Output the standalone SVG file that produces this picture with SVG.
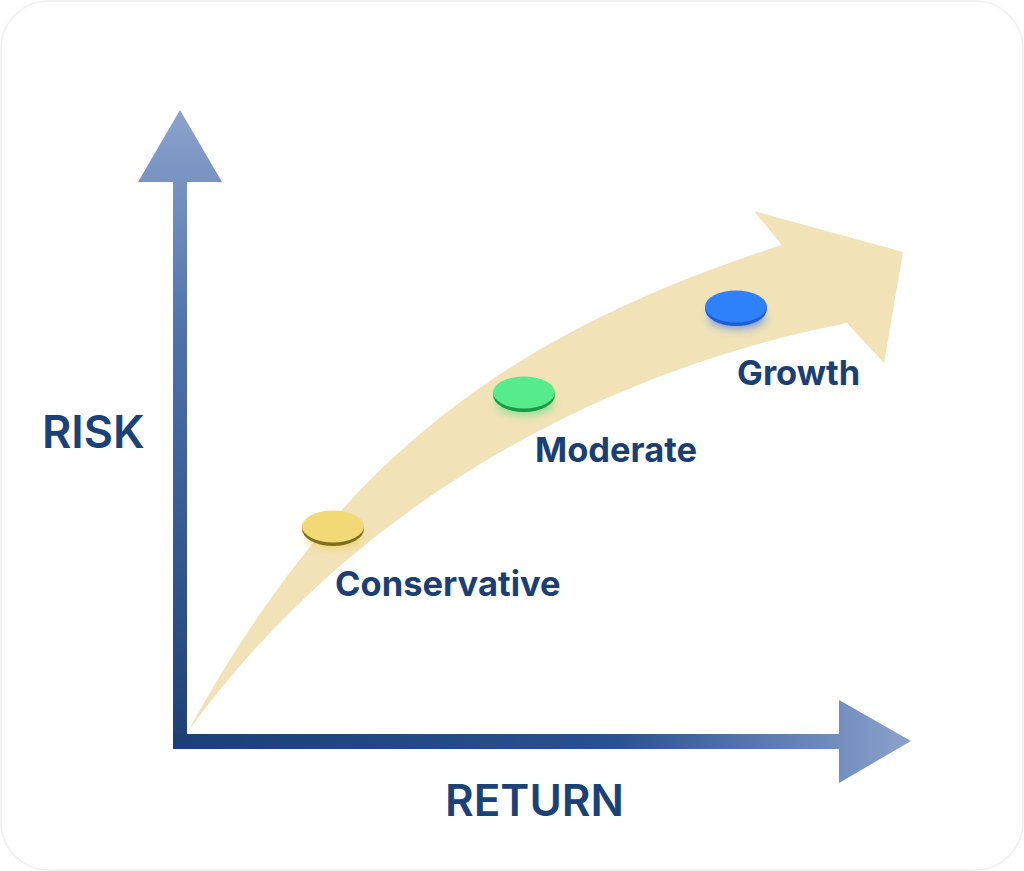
<svg xmlns="http://www.w3.org/2000/svg" width="1024" height="871" viewBox="0 0 1024 871">
  <defs>
    <linearGradient id="gV" x1="0" y1="110" x2="0" y2="749" gradientUnits="userSpaceOnUse">
      <stop offset="0" stop-color="#8ba2cc"/>
      <stop offset="0.35" stop-color="#4f72ab"/>
      <stop offset="1" stop-color="#1c3f74"/>
    </linearGradient>
    <linearGradient id="gH" x1="173" y1="0" x2="911" y2="0" gradientUnits="userSpaceOnUse">
      <stop offset="0" stop-color="#1c3f74"/>
      <stop offset="0.6" stop-color="#2a5190"/>
      <stop offset="1" stop-color="#8ba2cc"/>
    </linearGradient>
    <filter id="glow" x="-50%" y="-50%" width="200%" height="200%">
      <feGaussianBlur stdDeviation="5"/>
    </filter>
    <style>
      .lbl { font-family: Inter, "Liberation Sans", sans-serif; font-weight: 700; fill: #1b3f72; }
      .axis { font-family: Inter, "Liberation Sans", sans-serif; font-weight: 600; fill: #1b4277; }
    </style>
  </defs>

  <rect x="1" y="1" width="1022" height="869" rx="48" ry="48" fill="#ffffff" stroke="#efefef" stroke-width="1.5"/>

  <g id="band">
    <path d="M187,733 C335,463 503,335 782,245 L754,211 L903,252 L884,363 L847,323 C580,375 340,520 187,733 Z" fill="#f1e2b7"/>
  </g>

  <g id="connectors">
    <path id="axis-risk" d="M173,748 L173,182 L138,182 L180,110 L222,182 L187,182 L187,748 Z" fill="url(#gV)"/>
    <path id="axis-return" d="M173,734 L839,734 L839,700 L911,741 L839,783 L839,749 L173,749 Z" fill="url(#gH)"/>
  </g>

  <g id="node-conservative">
    <ellipse cx="334" cy="538" rx="28" ry="10" fill="#f3d060" opacity="0.8" filter="url(#glow)"/>
    <ellipse cx="333" cy="529" rx="31" ry="17" fill="#7e6e22"/>
    <ellipse cx="333" cy="526.5" rx="31" ry="16" fill="#f3d876"/>
    <text class="lbl" x="335" y="596" font-size="34.5">Conservative</text>
  </g>

  <g id="node-moderate">
    <ellipse cx="525" cy="404" rx="28" ry="10" fill="#40e07a" opacity="0.7" filter="url(#glow)"/>
    <ellipse cx="524" cy="395" rx="31" ry="17" fill="#1d9646"/>
    <ellipse cx="524" cy="392.5" rx="31" ry="16" fill="#57ec8b"/>
    <text class="lbl" x="535" y="462" font-size="34.5">Moderate</text>
  </g>

  <g id="node-growth">
    <ellipse cx="737" cy="318" rx="28" ry="10" fill="#2a6ef0" opacity="0.7" filter="url(#glow)"/>
    <ellipse cx="736" cy="309" rx="31" ry="17" fill="#1c5fd3"/>
    <ellipse cx="736" cy="306.5" rx="31" ry="16" fill="#2f81fb"/>
    <text class="lbl" x="737" y="385" font-size="34.5">Growth</text>
  </g>

  <g id="labels">
    <text class="axis" x="42" y="448" font-size="45">RISK</text>
    <text class="axis" x="445" y="816" font-size="44">RETURN</text>
  </g>
</svg>
